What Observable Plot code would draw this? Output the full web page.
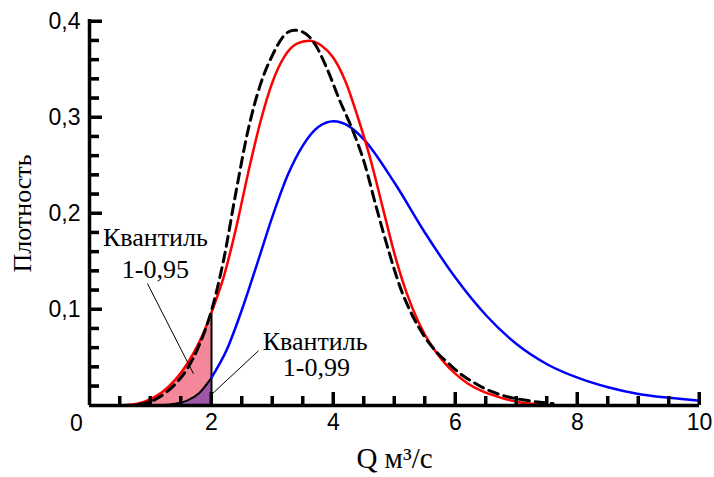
<!DOCTYPE html>
<html><head><meta charset="utf-8">
<script src="https://cdn.jsdelivr.net/npm/d3@7"></script>
<script src="https://cdn.jsdelivr.net/npm/@observablehq/plot@0.6"></script>
<style>
html,body{margin:0;padding:0;background:#fff}
#chart svg{display:block}
</style>
</head><body><div id="chart"></div>
<script>
// ---- data ----
const redX = [0.46,0.7,0.9,1.1,1.3,1.5,1.7,1.85,2.0,2.2,2.4,2.6,2.8,3.0,3.2,3.4,3.6,3.8,4.0,4.2,4.4,4.6,4.8,5.0,5.2,5.4,5.6,5.8,6.0,6.2,6.4,6.6,6.8,7.0,7.5];
const redY = [0,0.001,0.004,0.010,0.020,0.034,0.054,0.073,0.097,0.134,0.184,0.242,0.295,0.337,0.364,0.377,0.380,0.375,0.362,0.337,0.300,0.258,0.208,0.158,0.117,0.086,0.063,0.046,0.033,0.023,0.016,0.011,0.007,0.004,0.001];

const blackX = [0.8,1.0,1.2,1.4,1.6,1.8,2.0,2.2,2.4,2.6,2.8,3.0,3.2,3.35,3.5,3.7,3.9,4.1,4.3,4.5,4.7,4.9,5.1,5.3,5.5,5.7,5.9,6.1,6.3,6.5,6.8,7.1,7.6];
const blackY = [0.001,0.004,0.011,0.022,0.038,0.063,0.099,0.152,0.222,0.287,0.334,0.365,0.386,0.391,0.389,0.376,0.350,0.318,0.289,0.254,0.207,0.162,0.122,0.093,0.071,0.055,0.043,0.032,0.024,0.017,0.010,0.006,0.002];

const blueX = [2.0,2.25,2.5,2.75,3.0,3.25,3.5,3.75,4.0,4.25,4.5,5.0,5.5,6.0,6.5,7.0,7.5,8.0,8.5,9.0,9.5,10.0];
const blueY = [0.029,0.058,0.100,0.148,0.197,0.240,0.271,0.290,0.296,0.291,0.277,0.232,0.180,0.133,0.094,0.064,0.043,0.029,0.019,0.012,0.008,0.005];

// left tail of the blue density (drawn in black, filled purple)
const tailX = [1.1,1.2,1.4,1.6,1.8,2.0];
const tailY = [0,0.0004,0.0018,0.005,0.013,0.029];

const quantileX = 2;

const xMajor = [2,4,6,8,10];
const xTickLabels = ["2","4","6","8","10"];
const xMinor = [0.5,1,1.5,2.5,3,3.5,4.5,5,5.5,6.5,7,7.5,8.5,9,9.5];
const yMajor = [0.1,0.2,0.3,0.4];
const yTickLabels = ["0,1","0,2","0,3","0,4"];
const yMinor = [0.02,0.04,0.06,0.08,0.12,0.14,0.16,0.18,0.22,0.24,0.26,0.28,0.32,0.34,0.36,0.38];
const originLabel = ["0"];

const xTitle = "Q м³/с";
const yTitle = "Плотность";

const notes = [
  {text:"Квантиль", x:1.08, y:0.1745},
  {text:"1-0,95",   x:1.08, y:0.1417},
  {text:"Квантиль", x:3.70, y:0.0667},
  {text:"1-0,99",   x:3.72, y:0.0390}
];
const leaders = [
  {x1:0.95, y1:0.127, x2:1.705, y2:0.033},
  {x1:2.77, y1:0.057, x2:2.01,  y2:0.012}
];

// ---- build tables ----
const zip = (xs, ys) => xs.map((x,i)=>({x, y: ys[i]}));
const red = zip(redX, redY);
const black = zip(blackX, blackY);
const blue = zip(blueX, blueY);
const tail = zip(tailX, tailY);
const redTail = red.filter(d => d.x <= quantileX);
const redAtQ = red.find(d => d.x === quantileX).y;

const W = 714, H = 477, mL = 89, mR = 15, mT = 21, mB = 72;
const frameW = W - mL - mR, frameH = H - mT - mB;
const serif = "'Liberation Serif','Times New Roman',serif";
const sans = "'Liberation Sans',Arial,sans-serif";
const crv = "monotone-x";

const plot = Plot.plot({
  width: W, height: H,
  marginLeft: mL, marginRight: mR, marginTop: mT, marginBottom: mB,
  x: {domain: [0,10]},
  y: {domain: [0,0.4]},
  style: {fontFamily: sans},
  marks: [
    Plot.areaY(redTail, {x:"x", y:"y", fill:"#f5879a", curve:crv}),
    Plot.areaY(tail, {x:"x", y:"y", fill:"#9c58a6", curve:crv}),
    Plot.ruleX([quantileX], {y1: 0, y2: redAtQ, stroke:"black", strokeWidth:2}),
    Plot.line(tail, {x:"x", y:"y", stroke:"black", strokeWidth:2, curve:crv}),
    Plot.line(blue, {x:"x", y:"y", stroke:"#0000ff", strokeWidth:2.5, curve:crv}),
    Plot.line(red, {x:"x", y:"y", stroke:"#ff0000", strokeWidth:2.5, curve:crv}),
    Plot.line(black, {x:"x", y:"y", stroke:"black", strokeWidth:3, strokeDasharray:"10,6", curve:crv}),
    Plot.link(leaders, {x1:"x1", y1:"y1", x2:"x2", y2:"y2", stroke:"black", strokeWidth:1}),
    // axis lines
    Plot.ruleY([0], {stroke:"black", strokeWidth:3.5}),
    Plot.ruleX([0], {stroke:"black", strokeWidth:3.5, insetTop:-2}),
    // tick labels
    Plot.axisX(xMajor, {tickSize:0, tickPadding:8, label:null, fontSize:23, fill:"black",
      tickFormat: d => xTickLabels[xMajor.indexOf(d)]}),
    Plot.axisY(yMajor, {tickSize:0, tickPadding:9, label:null, fontSize:23, fill:"black",
      tickFormat: d => yTickLabels[yMajor.indexOf(d)]}),
    Plot.text(originLabel, {x: 0, y: 0, text: d=>d, dx:-13, dy:18, fontSize:23, fill:"black"}),
    // titles
    Plot.text([xTitle], {frameAnchor:"bottom", text:d=>d, dy:62, fontSize:29, fontFamily:serif, fill:"black"}),
    Plot.text([yTitle], {frameAnchor:"left", textAnchor:"middle", text:d=>d, dx:-67, rotate:-90, fontSize:26, fontFamily:serif, fill:"black"}),
    // annotations
    Plot.text(notes, {x:"x", y:"y", text:"text", fontSize:26, fontFamily:serif, fill:"black"}),
    // inward ticks (rules spanning the frame, inset to tick length)
    Plot.ruleX(xMinor, {insetTop: frameH - 9, stroke:"black", strokeWidth:3}),
    Plot.ruleX(xMajor, {insetTop: frameH - 13, stroke:"black", strokeWidth:3}),
    Plot.ruleY(yMinor, {insetRight: frameW - 10, stroke:"black", strokeWidth:3}),
    Plot.ruleY(yMajor, {insetRight: frameW - 13, stroke:"black", strokeWidth:3})
  ]
});
document.getElementById("chart").appendChild(plot);

// the same inward ticks, placed again through the plot's own x and y scales
const sx = plot.scale("x"), sy = plot.scale("y");
const tickLayer = d3.select(plot).append("g").attr("stroke", "black").attr("stroke-width", 3);
const addX = (vals, len) => vals.forEach(v => {
  const px = sx.apply(v), py = sy.apply(0);
  tickLayer.append("line").attr("x1", px).attr("x2", px).attr("y1", py).attr("y2", py - len);
});
const addY = (vals, len) => vals.forEach(v => {
  const px = sx.apply(0), py = sy.apply(v);
  tickLayer.append("line").attr("x1", px).attr("x2", px + len).attr("y1", py).attr("y2", py);
});
addX(xMinor, 9); addX(xMajor, 13);
addY(yMinor, 10); addY(yMajor, 13);
</script>
</body></html>
